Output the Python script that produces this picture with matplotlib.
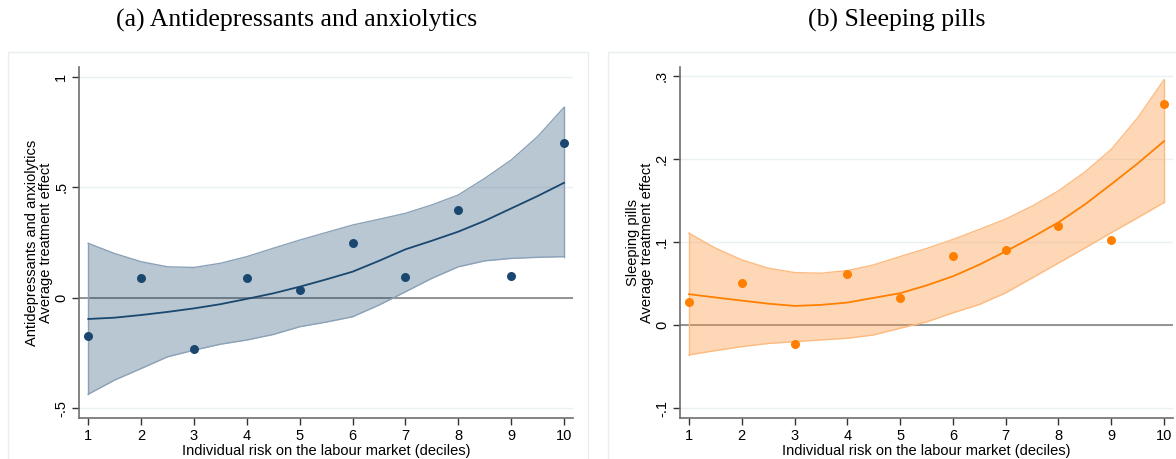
import numpy as np
import matplotlib.pyplot as plt
from matplotlib.patches import Rectangle

# deciles
deciles = [1, 2, 3, 4, 5, 6, 7, 8, 9, 10]
grid = [1, 1.5, 2, 2.5, 3, 3.5, 4, 4.5, 5, 5.5, 6, 6.5, 7, 7.5, 8, 8.5, 9, 9.5, 10]

# (a) antidepressants and anxiolytics
ate_a = [-0.173, 0.090, -0.234, 0.090, 0.035, 0.249, 0.095, 0.397, 0.098, 0.701]
fit_a = [-0.096, -0.09, -0.078, -0.064, -0.048, -0.029, -0.005, 0.02, 0.05, 0.083,
         0.118, 0.167, 0.219, 0.258, 0.299, 0.348, 0.404, 0.46, 0.52]
hi_a = [0.246, 0.2, 0.163, 0.14, 0.137, 0.156, 0.186, 0.224, 0.261, 0.295,
        0.329, 0.355, 0.382, 0.42, 0.465, 0.54, 0.623, 0.729, 0.861]
lo_a = [-0.436, -0.372, -0.32, -0.267, -0.237, -0.21, -0.191, -0.166, -0.131, -0.11,
        -0.086, -0.033, 0.027, 0.088, 0.14, 0.167, 0.178, 0.183, 0.186]

# (b) sleeping pills
ate_b = [0.0277, 0.051, -0.023, 0.062, 0.033, 0.083, 0.091, 0.120, 0.103, 0.267]
fit_b = [0.0374, 0.0335, 0.0297, 0.026, 0.0233, 0.0245, 0.0273, 0.033, 0.0386, 0.048,
         0.059, 0.073, 0.089, 0.106, 0.124, 0.1456, 0.170, 0.195, 0.222]
hi_b = [0.111, 0.093, 0.0788, 0.0688, 0.0635, 0.0627, 0.0659, 0.0728, 0.0828, 0.0925,
        0.1034, 0.1155, 0.128, 0.1436, 0.162, 0.1847, 0.212, 0.25, 0.296]
lo_b = [-0.0358, -0.0306, -0.0258, -0.022, -0.0198, -0.0177, -0.0157, -0.0117, -0.0036, 0.004,
        0.0149, 0.025, 0.039, 0.057, 0.075, 0.093, 0.1115, 0.1296, 0.148]

yticks_a = [-0.5, 0, 0.5, 1]
ylabels_a = ["-.5", "0", ".5", "1"]
yticks_b = [-0.1, 0, 0.1, 0.2, 0.3]
ylabels_b = ["-.1", "0", ".1", ".2", ".3"]

W, H = 1176, 459
fig = plt.figure(figsize=(W / 100, H / 100), dpi=100)
sans = ["Liberation Sans", "DejaVu Sans"]
serif = ["Liberation Serif", "DejaVu Serif"]

# outer panel boxes
for x0, x1 in [(8, 588), (608, 1180)]:
    fig.patches.append(Rectangle((x0 / W, -0.05), (x1 - x0) / W, (H - 52) / H + 0.05,
                                 transform=fig.transFigure, fill=False,
                                 edgecolor="#e8eef0", linewidth=1.0))

def panel(rect, ylab, ate, fit, hi, lo, ylim, yticks, ylabels,
          dot, fill, edge, fill_alpha):
    ax = fig.add_axes(rect)
    ax.set_xlim(0.83, 10.17)
    ax.set_ylim(*ylim)
    for t in yticks:
        ax.axhline(t, color="#eaf1f3", linewidth=1.0, zorder=0)
    ax.axhline(0, color="#8a8a8a", linewidth=1.3, zorder=1)
    ax.fill_between(grid, lo, hi, color=fill, alpha=fill_alpha, linewidth=0, zorder=2)
    ax.plot(grid, hi, color=edge, linewidth=1.0, zorder=3)
    ax.plot(grid, lo, color=edge, linewidth=1.0, zorder=3)
    ax.plot([grid[0], grid[0]], [lo[0], hi[0]], color=edge, linewidth=1.0, zorder=3)
    ax.plot([grid[-1], grid[-1]], [lo[-1], hi[-1]], color=edge, linewidth=1.0, zorder=3)
    ax.plot(grid, fit, color=dot, linewidth=1.3, zorder=4)
    ax.scatter(deciles, ate, s=42, color=dot, zorder=5, linewidths=0)

    for s in ["top", "right"]:
        ax.spines[s].set_visible(False)
    for s in ["left", "bottom"]:
        ax.spines[s].set_color("#6e6e6e")
        ax.spines[s].set_linewidth(1.2)
    ax.set_xticks(deciles)
    ax.set_xticklabels([str(d) for d in deciles], family=sans, fontsize=10.5)
    ax.set_yticks(yticks)
    ax.set_yticklabels(ylabels, family=sans, fontsize=10.5, rotation=90, va="center")
    ax.tick_params(direction="out", length=5, width=1.0, color="#333333", pad=3)
    ax.set_xlabel("Individual risk on the labour market (deciles)", family=sans,
                  fontsize=10.5, labelpad=1)
    ax.set_ylabel(ylab, family=sans, fontsize=10.5, labelpad=1, linespacing=1.0)
    return ax

def frac(x0, x1, ytop, ybot):
    return [x0 / W, (H - ybot) / H, (x1 - x0) / W, (ybot - ytop) / H]

ax_a = panel(frac(79.3, 573, 67.3, 417.7),
             "Antidepressants and anxiolytics\nAverage treatment effect",
             ate_a, fit_a, hi_a, lo_a, (-0.5425, 1.0425), yticks_a, ylabels_a,
             "#1a476f", "#1a476f", "#8aa1b7", 0.3)
ax_b = panel(frac(680, 1173, 67.3, 417.7),
             "Sleeping pills\nAverage treatment effect",
             ate_b, fit_b, hi_b, lo_b, (-0.1115, 0.311), yticks_b, ylabels_b,
             "#ff7f00", "#fd9b4a", "#fdbb80", 0.4)

# panel titles
fig.text(297 / W, (H - 20) / H, "(a) Antidepressants and anxiolytics",
         family=serif, fontsize=18.5, ha="center", va="center")
fig.text(897 / W, (H - 20) / H, "(b) Sleeping pills",
         family=serif, fontsize=18.5, ha="center", va="center")

fig.savefig("out.png", dpi=100)
